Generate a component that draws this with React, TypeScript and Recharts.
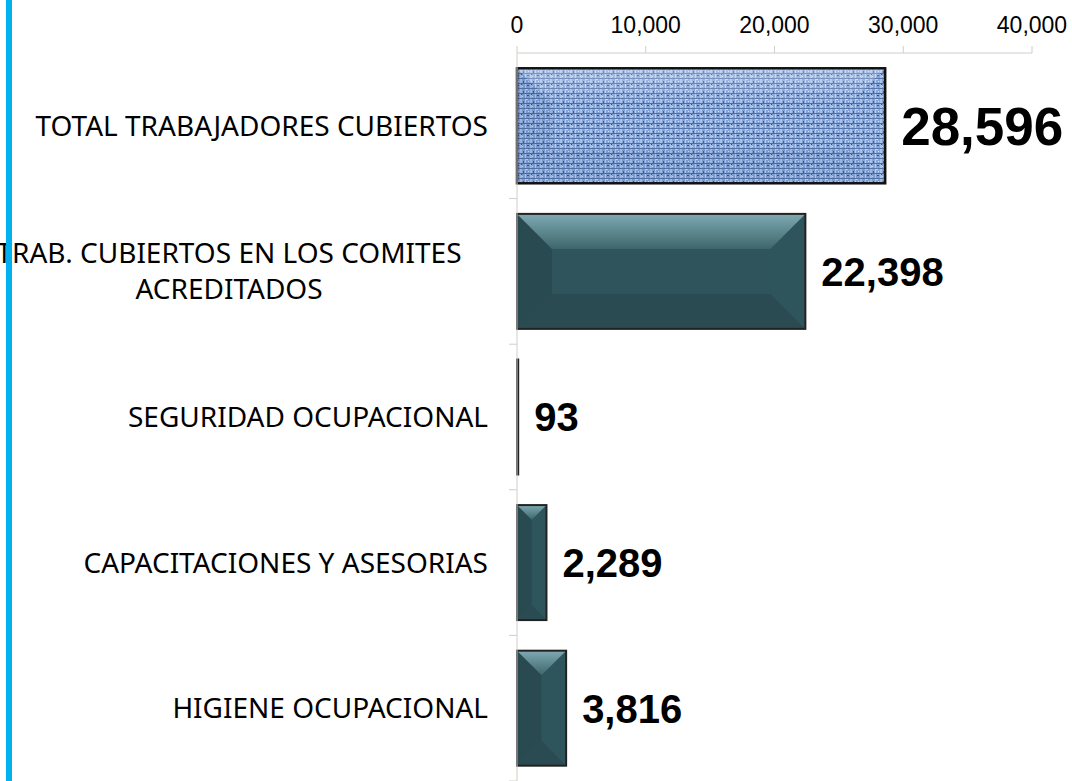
import React from 'react';
import { BarChart, Bar, XAxis, YAxis, LabelList } from 'recharts';

const categories = [
  'TOTAL TRABAJADORES CUBIERTOS',
  'TRAB. CUBIERTOS EN LOS COMITES ACREDITADOS',
  'SEGURIDAD OCUPACIONAL',
  'CAPACITACIONES Y ASESORIAS',
  'HIGIENE OCUPACIONAL',
];
const values = [28596, 22398, 93, 2289, 3816];
const xTicks = [0, 10000, 20000, 30000, 40000];

const data = categories.map((name, i) => ({ name, value: values[i] }));
const maxValue = Math.max(...values);

const LABEL_FONT = 'Noto Sans, Open Sans, sans-serif';
const NUM_FONT = 'Liberation Sans, Arial, sans-serif';
const Y_TICK_SIZE = 8;
const Y_TICK_MARGIN = 21;

const fmt = (v: number) => v.toLocaleString('en-US');

function wrapWords(text: string, maxChars: number): string[] {
  const words = text.split(' ');
  const lines: string[] = [];
  let cur = '';
  for (const w of words) {
    const next = cur ? cur + ' ' + w : w;
    if (next.length > maxChars && cur) {
      lines.push(cur);
      cur = w;
    } else {
      cur = next;
    }
  }
  if (cur) lines.push(cur);
  return lines;
}

const YTick = (props: any) => {
  const { x, y, payload } = props;
  const lines = wrapWords(String(payload.value), 30);
  const axisX = x + Y_TICK_SIZE + Y_TICK_MARGIN;
  const half = payload.offset ?? 72.8;
  const sep = (
    <line x1={axisX - Y_TICK_SIZE} x2={axisX} y1={y + half} y2={y + half} stroke="#D0CEC8" strokeWidth={1} />
  );
  if (lines.length === 1) {
    return (
      <g>
        {sep}
        <text x={x} y={y + 10} textAnchor="end" fontFamily={LABEL_FONT} fontSize={28} fill="#000">
          {lines[0]}
        </text>
      </g>
    );
  }
  const lh = 36;
  const cx = x - 259;
  return (
    <g>
      {sep}
      <text textAnchor="middle" fontFamily={LABEL_FONT} fontSize={28} fill="#000">
        {lines.map((l, i) => (
          <tspan key={i} x={cx} y={y + 10 + (i - (lines.length - 1) / 2) * lh}>
            {l}
          </tspan>
        ))}
      </text>
    </g>
  );
};

const BevelBar = (props: any) => {
  const { x, y, width: w, height: h, index } = props;
  if (!(w > 0) || !(h > 0)) return null;
  const d = Math.min(35, w / 2, h / 2);
  const top = `${x},${y} ${x + w},${y} ${x + w - d},${y + d} ${x + d},${y + d}`;
  const left = `${x},${y} ${x + d},${y + d} ${x + d},${y + h - d} ${x},${y + h}`;
  const right = `${x + w},${y} ${x + w - d},${y + d} ${x + w - d},${y + h - d} ${x + w},${y + h}`;
  const bottom = `${x},${y + h} ${x + d},${y + h - d} ${x + w - d},${y + h - d} ${x + w},${y + h}`;
  const gid = `topgrad-${index}`;
  if (index === 0) {
    const pid = `linen-${index}`;
    return (
      <g>
        <defs>
          <pattern id={pid} width={10} height={10} patternUnits="userSpaceOnUse">
            <rect width={10} height={10} fill="#86A4D6" />
            <rect x={0} y={0} width={2} height={10} fill="#A8C2EC" />
            <rect x={5} y={0} width={1} height={10} fill="#B9CFF2" />
            <rect x={0} y={3} width={10} height={1} fill="#4E6EA6" />
            <rect x={0} y={8} width={10} height={1} fill="#5574AB" />
            <rect x={3} y={1} width={1} height={2} fill="#3C5C94" />
            <rect x={7} y={5} width={2} height={1} fill="#34538A" />
            <rect x={2} y={6} width={1} height={1} fill="#D0DFF7" />
            <rect x={8} y={1} width={1} height={1} fill="#D6E3F8" />
            <rect x={6} y={9} width={2} height={1} fill="#C4D7F4" />
            <rect x={1} y={4} width={1} height={1} fill="#2E4C82" />
          </pattern>
          <linearGradient id={gid} x1="0" y1="0" x2="0" y2="1">
            <stop offset="0%" stopColor="#FFFFFF" stopOpacity={0.3} />
            <stop offset="100%" stopColor="#FFFFFF" stopOpacity={0} />
          </linearGradient>
        </defs>
        <rect x={x} y={y} width={w} height={h} fill={`url(#${pid})`} />
        <polygon points={left} fill="#1F3A6A" fillOpacity={0.1} />
        <polygon points={bottom} fill="#1F3A6A" fillOpacity={0.08} />
        <polygon points={top} fill={`url(#${gid})`} />
        <rect x={x} y={y} width={w} height={h} fill="none" stroke="#111" strokeWidth={2.5} />
      </g>
    );
  }
  return (
    <g>
      <defs>
        <linearGradient id={gid} x1="0" y1="0" x2="0" y2="1">
          <stop offset="0%" stopColor="#7FAAB2" />
          <stop offset="100%" stopColor="#3D656C" />
        </linearGradient>
      </defs>
      <rect x={x} y={y} width={w} height={h} fill="#2F545B" />
      {d > 1 && (
        <>
          <polygon points={left} fill="#294A50" />
          <polygon points={right} fill="#2F555C" />
          <polygon points={bottom} fill="#2A4B51" />
          <polygon points={top} fill={`url(#${gid})`} />
        </>
      )}
      <rect x={x} y={y} width={w} height={h} fill="none" stroke="#222" strokeWidth={2} />
    </g>
  );
};

const ValueLabel = (props: any) => {
  const { x, y, width, height, value } = props;
  const fs = value === maxValue ? 53 : 40;
  return (
    <text
      x={x + width + 16}
      y={y + height / 2 + fs * 0.36}
      fontFamily={NUM_FONT}
      fontWeight="bold"
      fontSize={fs}
      fill="#000"
    >
      {fmt(value)}
    </text>
  );
};

export default function App() {
  return (
    <div style={{ position: 'absolute', left: 0, top: 0, width: 1072, height: 781, background: '#fff' }}>
      <BarChart
        width={1072}
        height={781}
        data={data}
        layout="vertical"
        margin={{ top: 0, right: 40, bottom: 0, left: 0 }}
        barCategoryGap="10.5%"
      >
        <XAxis
          type="number"
          orientation="top"
          domain={[0, 40000]}
          ticks={xTicks}
          height={53}
          tickSize={7}
          tickMargin={13}
          tickFormatter={fmt}
          stroke="#D0CEC8"
          tick={{ fill: '#000', fontSize: 23, fontFamily: NUM_FONT }}
          interval={0}
        />
        <YAxis
          type="category"
          dataKey="name"
          width={517}
          tickSize={Y_TICK_SIZE}
          tickMargin={Y_TICK_MARGIN}
          tickLine={false}
          stroke="#D0CEC8"
          tick={<YTick />}
          interval={0}
        />
        <Bar dataKey="value" isAnimationActive={false} shape={(p: any) => <BevelBar {...p} />}>
          <LabelList dataKey="value" content={<ValueLabel />} />
        </Bar>
      </BarChart>
      <div style={{ position: 'absolute', left: 6, top: 0, width: 6, height: 781, background: '#00B0F0' }} />
    </div>
  );
}
